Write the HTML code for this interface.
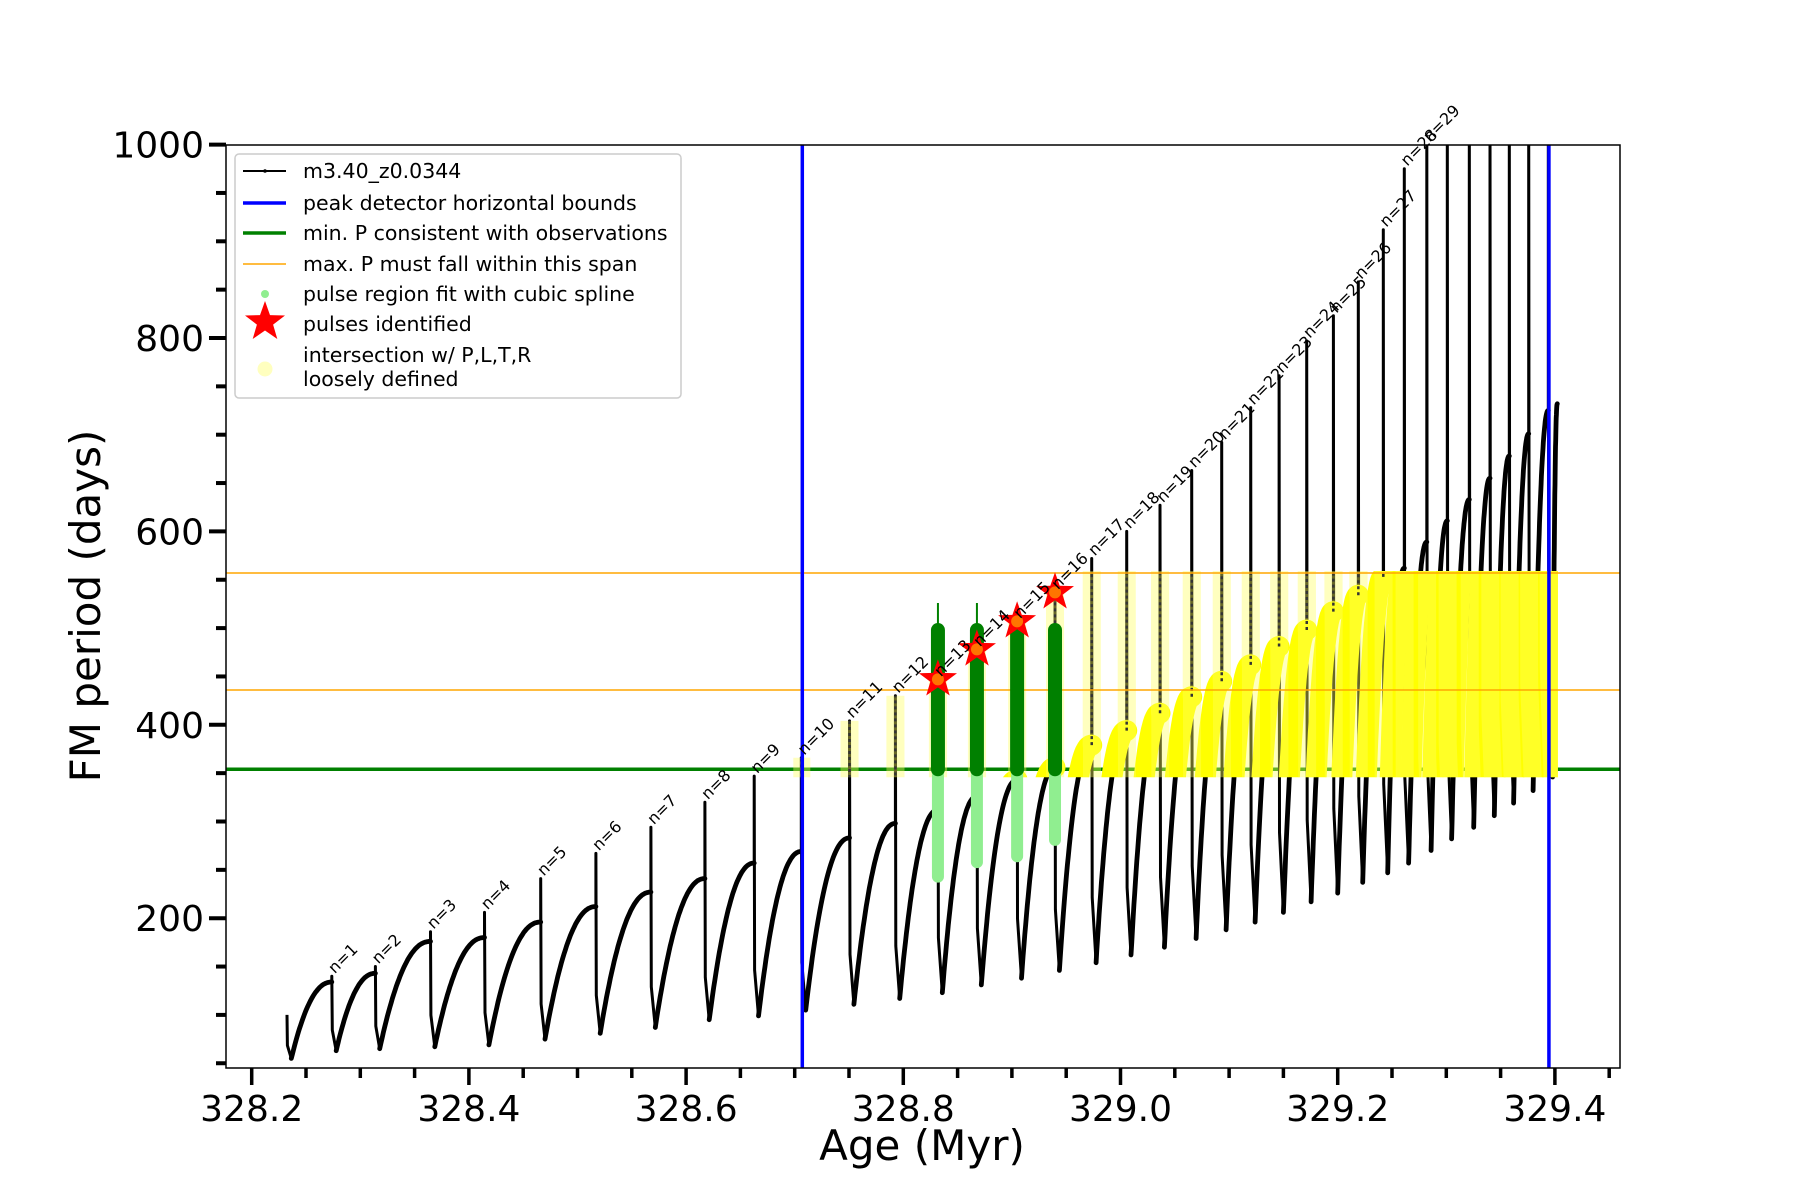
<!DOCTYPE html>
<html><head><meta charset="utf-8"><style>
html,body{margin:0;padding:0;background:#fff;}
svg{display:block;font-family:"DejaVu Sans","Liberation Sans",sans-serif;}
</style></head><body>
<svg id="chart" width="1800" height="1200" viewBox="0 0 1800 1200" xmlns="http://www.w3.org/2000/svg">
<defs>
<clipPath id="axclip"><rect x="226" y="145" width="1394" height="923"/></clipPath>
<clipPath id="bandclip"><rect id="bandrect" x="0" y="0" width="0" height="0"/></clipPath>
</defs>
<rect x="0" y="0" width="1800" height="1200" fill="#fff"/>
<g id="plot" clip-path="url(#axclip)"></g>
<g id="axes"></g>
<g id="legend">
<rect x="235" y="154" width="446" height="244" rx="4" fill="#fff" fill-opacity="0.9" stroke="#ccc" stroke-width="1.5"/>
<g><line x1="243" y1="171" x2="286" y2="171" stroke="#000" stroke-width="2"/><circle cx="265" cy="171" r="1.8" fill="#000"/><text x="303" y="178" font-size="20.5">m3.40_z0.0344</text></g>
<g><line x1="243" y1="203" x2="286" y2="203" stroke="#0000ff" stroke-width="3.5"/><text x="303" y="210" font-size="20.5">peak detector horizontal bounds</text></g>
<g><line x1="243" y1="233" x2="286" y2="233" stroke="#008000" stroke-width="3.5"/><text x="303" y="240" font-size="20.5">min. P consistent with observations</text></g>
<g><line x1="243" y1="264" x2="286" y2="264" stroke="#ffa500" stroke-width="1.5"/><text x="303" y="271" font-size="20.5">max. P must fall within this span</text></g>
<g><circle cx="265" cy="294" r="4" fill="#90ee90"/><text x="303" y="301" font-size="20.5">pulse region fit with cubic spline</text></g>
<g><polygon id="legstar" fill="#ff0000"/><text x="303" y="331" font-size="20.5">pulses identified</text></g>
<g><circle cx="265" cy="369" r="7.5" fill="#ffff80" fill-opacity="0.5"/><text x="303" y="362" font-size="20.5">intersection w/ P,L,T,R</text><text x="303" y="386" font-size="20.5">loosely defined</text></g>
</g>
<text x="922" y="1160" font-size="42" text-anchor="middle">Age (Myr)</text>
<text x="0" y="0" font-size="42" text-anchor="middle" transform="translate(100,606) rotate(-90)">FM period (days)</text>
</svg>
<script>
// ---- data ----
const pulseAges = [328.2325, 328.2738, 328.3139, 328.3646, 328.4144, 328.4661, 328.5169, 328.5676, 328.6173, 328.6627, 328.7061, 328.7505, 328.7927, 328.8319, 328.8678, 328.9048, 328.9397, 328.9735, 329.0057, 329.0364, 329.0656, 329.0932, 329.1199, 329.1460, 329.1715, 329.1960, 329.2190, 329.2420, 329.2613, 329.2820, 329.3009, 329.3212, 329.3402, 329.3580, 329.3759, 329.3939];
const prePeriod = [100, 134, 143, 176, 180, 196, 212, 227, 241, 257, 269, 283, 298, 312, 326, 343, 356, 379, 394, 412, 429, 445, 462, 481, 498, 517, 534, 553, 562, 589, 611, 633, 655, 678, 701, 725];
const peakPeriod = [100, 140, 150, 186, 206, 241, 267, 294, 320, 347, 366, 404, 430, 447, 478, 507, 537, 572, 600, 627, 663, 692, 728, 761, 797, 823, 858, 912, 975, 1050, 1050, 1050, 1050, 1050, 1050, 1050];
const minPeriod = [55, 63, 65, 67, 69, 75, 81, 87, 95, 99, 105, 111, 117, 123, 131, 138, 146, 154, 162, 170, 179, 188, 196, 206, 217, 226, 237, 247, 257, 270, 282, 294, 306, 319, 332, 346];
const endAge = 329.4022;
const endPeriod = 732;
const greenPulse = [13, 14, 15, 16];
const greenLow = [243, 258, 264, 281];
const greenTop = [498, 498, 494, 498];
const greenThinTop = [526, 526, 494, 498];
const starPeriod = [447, 478, 507, 537];
const boundAges = [328.707, 329.3945];
const minObsP = 354;
const maxSpan = [436, 557];
const xTicks = [328.2, 328.4, 328.6, 328.8, 329.0, 329.2, 329.4];
const xTickLabels = ["328.2", "328.4", "328.6", "328.8", "329.0", "329.2", "329.4"];
const yTicks = [200, 400, 600, 800, 1000];
const yTickLabels = ["200", "400", "600", "800", "1000"];
const labelCount = 29;

// ---- scales ----
const X0 = 226, X1 = 1620, Y0 = 145, Y1 = 1068;
function xs(a){ return 251.7 + (a - 328.2) * 1086; }
function ys(p){ return 1111.6 - p * 0.967; }
const NS = "http://www.w3.org/2000/svg";
function mk(tag, attrs, parent){ const e = document.createElementNS(NS, tag); for (const k in attrs) e.setAttribute(k, attrs[k]); parent.appendChild(e); return e; }
function starPts(cx, cy, R, r){ let s=[]; for(let i=0;i<10;i++){ const ang=-Math.PI/2+i*Math.PI/5; const rr=i%2?r:R; s.push((cx+rr*Math.cos(ang)).toFixed(1)+","+(cy+rr*Math.sin(ang)).toFixed(1)); } return s.join(" "); }
document.getElementById('legstar').setAttribute('points', starPts(265, 322, 21, 8.5));

const plot = document.getElementById('plot');
const axes = document.getElementById('axes');

// ---- build curve ----
let arcs = [], spikes = [];
const n = pulseAges.length;
for (let i = 0; i < n; i++) {
  const t = pulseAges[i];
  const spike = [[t, prePeriod[i]], [t, peakPeriod[i]], [t + 0.0004, minPeriod[i] + (prePeriod[i] - minPeriod[i]) * 0.3], [t + 0.004, minPeriod[i]]];
  spikes.push(spike);
  const tN = (i + 1 < n) ? pulseAges[i + 1] : endAge;
  const pN = (i + 1 < n) ? prePeriod[i + 1] : endPeriod;
  const ts = t + 0.004, arc = [[ts, minPeriod[i]]];
  const steps = 40;
  for (let k = 1; k <= steps; k++) {
    const s = k / steps;
    const f = 1 - Math.pow(1 - s, 2.2);
    arc.push([ts + (tN - ts) * s, minPeriod[i] + (pN - minPeriod[i]) * f]);
  }
  arcs.push(arc);
}
function pstr(arr){ return arr.map(p => xs(p[0]).toFixed(1) + "," + ys(p[1]).toFixed(1)).join(" "); }

// band clip
const br = document.getElementById('bandrect');
br.setAttribute('x', xs(boundAges[0]) - 9);
br.setAttribute('y', ys(maxSpan[1]) - 2);
br.setAttribute('width', xs(boundAges[1]) - xs(boundAges[0]) + 18);
br.setAttribute('height', ys(minObsP) - ys(maxSpan[1]) + 10);

// green horizontal line (under yellow)
const gl = mk('line', {x1: X0, x2: X1, y1: ys(minObsP), y2: ys(minObsP), stroke: '#008000', 'stroke-width': 3.5}, plot);



// black curve
for (let i = 0; i < n; i++) {
  const sp = mk('polyline', {points: pstr(spikes[i]), fill: 'none', stroke: '#000', 'stroke-width': 3, 'stroke-linejoin': 'round'}, plot);
  
  
  const ar = mk('polyline', {points: pstr(arcs[i]), fill: 'none', stroke: '#000', 'stroke-width': 4.8, 'stroke-linejoin': 'round', 'stroke-linecap': 'round'}, plot);
  
  
}

// yellow intersection
const yg = mk('g', {'clip-path': 'url(#bandclip)'}, plot);


for (let i = 0; i < n; i++) {
  const a = mk('polyline', {points: pstr(arcs[i]), fill: 'none', stroke: '#ffff00', 'stroke-width': 21, 'stroke-linecap': 'round', 'stroke-linejoin': 'round'}, yg);
  
  
}
for (let i = 0; i < n; i++) {
  const s = mk('polyline', {points: pstr(spikes[i]), fill: 'none', stroke: '#ffff60', 'stroke-opacity': 0.4, 'stroke-width': 18, 'stroke-linecap': 'round'}, yg);
  
  
  const s2 = mk('line', {x1: xs(pulseAges[i]), x2: xs(pulseAges[i]), y1: ys(prePeriod[i]), y2: ys(peakPeriod[i]), stroke: '#333', 'stroke-width': 2.5, 'stroke-dasharray': '3 3'}, yg);
  
  
}

// orange lines
maxSpan.forEach(v => {
  const o = mk('line', {x1: X0, x2: X1, y1: ys(v), y2: ys(v), stroke: '#ffa500', 'stroke-width': 1.5}, plot);
  
  
});

// green spline columns + stars
for (let j = 0; j < greenPulse.length; j++) {
  const x = xs(pulseAges[greenPulse[j]]);
  const lg = mk('line', {x1: x, x2: x, y1: ys(greenLow[j]), y2: ys(minObsP), stroke: '#90ee90', 'stroke-width': 12, 'stroke-linecap': 'round'}, plot);
  
  
  const th = mk('line', {x1: x, x2: x, y1: ys(minObsP), y2: ys(greenThinTop[j]), stroke: '#008000', 'stroke-width': 2}, plot);
  
  
  const dg = mk('line', {x1: x, x2: x, y1: ys(minObsP), y2: ys(greenTop[j]), stroke: '#008000', 'stroke-width': 14, 'stroke-linecap': 'round'}, plot);
  
  
}
for (let j = 0; j < greenPulse.length; j++) {
  const x = xs(pulseAges[greenPulse[j]]);
  const st = mk('polygon', {points: starPts(x, ys(starPeriod[j]), 20, 8), fill: '#ff0000'}, plot);
  
  
  const c = mk('circle', {cx: x, cy: ys(starPeriod[j]), r: 6, fill: '#ffa500', 'fill-opacity': 0.7}, plot);
  
  
}

// blue bounds
boundAges.forEach(a => {
  const b = mk('line', {x1: xs(a), x2: xs(a), y1: Y0, y2: Y1, stroke: '#0000ff', 'stroke-width': 3.5}, plot);
  
  
});

// pulse labels
for (let i = 1; i <= labelCount; i++) {
  const x = xs(pulseAges[i]) + 3;
  const y = ys(Math.min(peakPeriod[i], 1000)) - 2;
  const tx = mk('text', {x: 0, y: 0, 'font-size': 16, transform: 'translate(' + x.toFixed(1) + ',' + y.toFixed(1) + ') rotate(-45)'}, axes);
  tx.textContent = 'n=' + i;
  
  
}

// axes frame
const fr = mk('rect', {x: X0, y: Y0, width: X1 - X0, height: Y1 - Y0, fill: 'none', stroke: '#000', 'stroke-width': 1.5}, axes);



// x ticks
for (let v = 328.2; v <= 329.451; v += 0.05) {
  const major = Math.abs((v - 328.2) / 0.2 - Math.round((v - 328.2) / 0.2)) < 1e-6;
  const t = mk('line', {x1: xs(v), x2: xs(v), y1: Y1, y2: Y1 + (major ? 17 : 10), stroke: '#000', 'stroke-width': 3.5}, axes);
  
  
}
xTicks.forEach((v, i) => {
  const t = mk('text', {x: xs(v), y: 1121, 'font-size': 36, 'text-anchor': 'middle'}, axes);
  t.textContent = xTickLabels[i];
  
  
});
// y ticks
for (let v = 50; v <= 1000; v += 50) {
  const major = v % 200 === 0;
  const t = mk('line', {x1: X0 - (major ? 17 : 10), x2: X0, y1: ys(v), y2: ys(v), stroke: '#000', 'stroke-width': 4}, axes);
  
  
}
yTicks.forEach((v, i) => {
  const t = mk('text', {x: 204, y: ys(v) + 13, 'font-size': 36, 'text-anchor': 'end'}, axes);
  t.textContent = yTickLabels[i];
  
  
});
</script>
</body></html>
